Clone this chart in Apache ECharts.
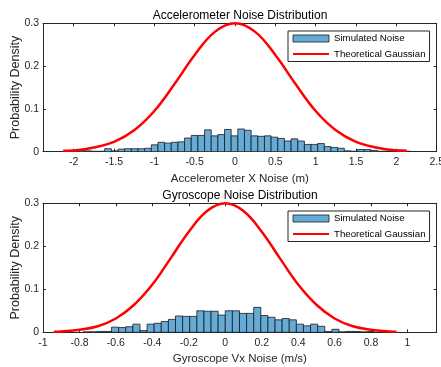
<!DOCTYPE html>
<html>
<head>
<meta charset="utf-8">
<script src="https://cdn.jsdelivr.net/npm/echarts@6/dist/echarts.min.js"></script>
<style>
  html, body { margin: 0; padding: 0; background: #fff; }
  #chart { width: 441px; height: 367px; }
</style>
</head>
<body>
<div id="chart"></div>
<script>
// accelerometer histogram (density per bin, bins of equal width)
const accelBinStart = -2.11;
const accelBinWidth = 0.0825;
const accelDensity = [
  0.002, 0.002, 0.003, 0.002, 0.001, 0.001, 0.007, 0.002, 0.006, 0.007,
  0.007, 0.007, 0.008, 0.016, 0.022, 0.020, 0.022, 0.023, 0.032, 0.038,
  0.038, 0.051, 0.037, 0.040, 0.052, 0.037, 0.053, 0.050, 0.037, 0.036,
  0.037, 0.034, 0.031, 0.025, 0.030, 0.025, 0.017, 0.017, 0.019, 0.012,
  0.010, 0.008, 0.002, 0.001, 0.005, 0.005, 0.003, 0.001, 0.001, 0.001,
  0.004, 0.001
];
const accelCurveX = [-2.13, -2, -1.75, -1.5, -1.25, -1, -0.75, -0.5, -0.25, 0,
  0.25, 0.5, 0.75, 1, 1.25, 1.5, 1.75, 2, 2.13];
const accelCurveY = [0.002, 0.003, 0.010, 0.023, 0.050, 0.095, 0.158, 0.226, 0.280, 0.300,
  0.280, 0.226, 0.158, 0.095, 0.050, 0.023, 0.010, 0.003, 0.002];
const accelTicks = [-2, -1.5, -1, -0.5, 0, 0.5, 1, 1.5, 2, 2.5];

// gyroscope histogram
const gyroBinStart = -0.78;
const gyroBinWidth = 0.039;
const gyroDensity = [
  0.001, 0.001, 0.002, 0.002, 0.012, 0.011, 0.013, 0.019, 0.004, 0.019,
  0.021, 0.025, 0.030, 0.038, 0.037, 0.037, 0.050, 0.049, 0.049, 0.040,
  0.050, 0.050, 0.044, 0.044, 0.058, 0.039, 0.035, 0.029, 0.032, 0.029,
  0.019, 0.015, 0.019, 0.014, 0.002, 0.007, 0.001, 0.002, 0.002, 0.001,
  0.002
];
const gyroCurveX = [-0.94, -0.9, -0.8, -0.7, -0.6, -0.5, -0.4, -0.3, -0.2, -0.1, 0,
  0.1, 0.2, 0.3, 0.4, 0.5, 0.6, 0.7, 0.8, 0.9, 0.94];
const gyroCurveY = [0.001, 0.002, 0.006, 0.014, 0.032, 0.064, 0.111, 0.172, 0.234, 0.282, 0.300,
  0.282, 0.234, 0.172, 0.111, 0.064, 0.032, 0.014, 0.006, 0.002, 0.001];
const gyroTicks = [-1, -0.8, -0.6, -0.4, -0.2, 0, 0.2, 0.4, 0.6, 0.8, 1];

const yTicks = [0, 0.1, 0.2, 0.3];

const FONT = 'Liberation Sans';
const AXIS_COLOR = '#262626';

const toBins = (start, width, values) =>
  values.map((v, i) => [start + i * width, start + (i + 1) * width, v]);
const toPoints = (xs, ys) => xs.map((x, i) => [x, ys[i]]);

const renderBar = (params, api) => {
  const top = api.coord([api.value(0), api.value(2)]);
  const base = api.coord([api.value(1), 0]);
  return {
    type: 'rect',
    shape: { x: top[0], y: top[1], width: base[0] - top[0], height: base[1] - top[1] },
    style: api.style()
  };
};

const xAxisFor = (gridIndex, min, max, ticks, name, bottom) => ({
  type: 'value',
  gridIndex,
  position: bottom ? 'bottom' : 'top',
  min, max,
  name: bottom ? name : '',
  nameLocation: 'middle',
  nameGap: 21,
  nameMoveOverlap: false,
  nameTextStyle: { fontFamily: FONT, fontSize: 11.5, color: AXIS_COLOR },
  splitLine: { show: false },
  axisLine: { show: true, onZero: false, lineStyle: { color: AXIS_COLOR, width: 1 } },
  axisTick: { show: true, inside: true, length: 3, customValues: ticks, lineStyle: { color: AXIS_COLOR } },
  axisLabel: {
    show: bottom, customValues: ticks, margin: 5,
    fontFamily: FONT, fontSize: 10.5, color: AXIS_COLOR
  }
});

const yAxisFor = (gridIndex, left) => ({
  type: 'value',
  gridIndex,
  position: left ? 'left' : 'right',
  min: 0, max: 0.3,
  name: left ? 'Probability Density' : '',
  nameLocation: 'middle',
  nameGap: 21,
  nameMoveOverlap: false,
  nameTextStyle: { fontFamily: FONT, fontSize: 12.5, color: AXIS_COLOR },
  splitLine: { show: false },
  axisLine: { show: true, onZero: false, lineStyle: { color: AXIS_COLOR, width: 1 } },
  axisTick: { show: true, inside: true, length: 3, customValues: yTicks, lineStyle: { color: AXIS_COLOR } },
  axisLabel: {
    show: left, customValues: yTicks, margin: 4,
    fontFamily: FONT, fontSize: 10.5, color: AXIS_COLOR
  }
});

const legendFor = (top) => ({
  left: 288, top,
  orient: 'vertical',
  itemWidth: 36, itemHeight: 7, itemGap: 5.5, itemTextGap: 3,
  padding: [2.5, 4, 2.5, 4],
  borderColor: AXIS_COLOR, borderWidth: 1, borderRadius: 0,
  backgroundColor: '#fff',
  selectedMode: false,
  textStyle: { fontFamily: FONT, fontSize: 9.7, color: '#000' },
  data: [
    { name: 'Simulated Noise', icon: 'rect', itemStyle: { borderWidth: 0.8 } },
    { name: 'Theoretical Gaussian', itemStyle: { opacity: 0 } }
  ]
});

const histSeries = (name, axis, data) => ({
  name, type: 'custom',
  xAxisIndex: axis, yAxisIndex: axis,
  renderItem: renderBar,
  encode: { x: [0, 1], y: 2 },
  clip: true,
  itemStyle: { color: '#66aad7', borderColor: '#1a1a1a', borderWidth: 0.8 },
  data
});

const curveSeries = (name, axis, data) => ({
  name, type: 'line',
  xAxisIndex: axis, yAxisIndex: axis,
  smooth: 0.4, showSymbol: false, symbol: 'none',
  lineStyle: { color: '#ff0000', width: 2.5 },
  itemStyle: { color: '#ff0000' },
  z: 5,
  data
});

const chart = echarts.init(document.getElementById('chart'), null, { renderer: 'canvas' });

const titleStyle = { fontFamily: FONT, fontSize: 12, fontWeight: 'normal', color: '#000' };

const option = {
  animation: false,
  backgroundColor: '#fff',
  title: [
    { text: 'Accelerometer Noise Distribution', left: 240, top: 9.5, padding: 0,
      textAlign: 'center', textStyle: titleStyle },
    { text: 'Gyroscope Noise Distribution', left: 240, top: 189.5, padding: 0,
      textAlign: 'center', textStyle: titleStyle }
  ],
  grid: [
    { left: 43, right: 4.3, top: 23.3, height: 128.4, outerBoundsMode: 'none' },
    { left: 43, right: 4.3, top: 203.3, height: 129, outerBoundsMode: 'none' }
  ],
  legend: [legendFor(31), legendFor(211)],
  xAxis: [
    xAxisFor(0, -2.38, 2.5, accelTicks, 'Accelerometer X Noise (m)', true),
    xAxisFor(0, -2.38, 2.5, accelTicks, '', false),
    xAxisFor(1, -1, 1.16, gyroTicks, 'Gyroscope Vx Noise (m/s)', true),
    xAxisFor(1, -1, 1.16, gyroTicks, '', false)
  ],
  yAxis: [
    yAxisFor(0, true),
    yAxisFor(0, false),
    yAxisFor(1, true),
    yAxisFor(1, false)
  ],
  series: [
    histSeries('Simulated Noise', 0, toBins(accelBinStart, accelBinWidth, accelDensity)),
    curveSeries('Theoretical Gaussian', 0, toPoints(accelCurveX, accelCurveY)),
    histSeries('Simulated Noise', 2, toBins(gyroBinStart, gyroBinWidth, gyroDensity)),
    curveSeries('Theoretical Gaussian', 2, toPoints(gyroCurveX, gyroCurveY))
  ]
};

chart.setOption(option);
</script>
</body>
</html>
